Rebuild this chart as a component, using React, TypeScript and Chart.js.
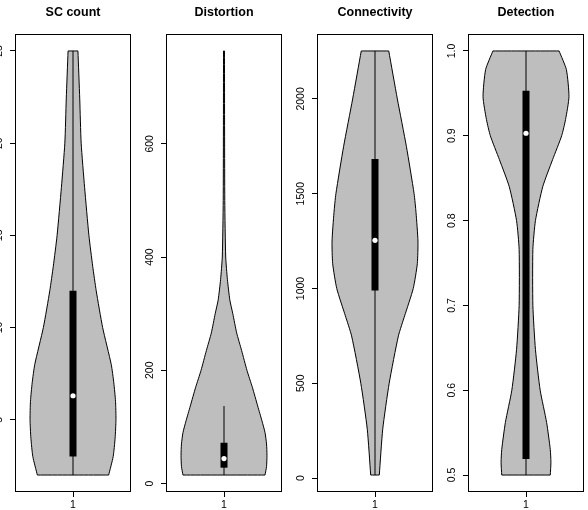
import React, { useEffect, useRef } from "react";
import { Chart, registerables } from "chart.js";

Chart.register(...registerables);

const FONT = '"Liberation Sans", Arial, Helvetica, sans-serif';

// ---------- data ----------
const TITLES = ["SC count", "Distortion", "Connectivity", "Detection"];
const X_LABEL = "1";

// SC count
const SC_LEVELS = [2, 3, 4, 5, 6, 7, 8, 10, 12, 13.3, 15, 17.6, 20, 22.4, 25];
const SC_DENSITY = [0.83, 0.935, 0.98, 1.0, 0.99, 0.95, 0.89, 0.69, 0.54, 0.46, 0.37, 0.27, 0.19, 0.157, 0.115];
const SC_STATS = [2, 2, 3, 6.3, 12, 25, 25]; // min, lowWhisker, q1, median, q3, highWhisker, max
const SC_TICKS = [5, 10, 15, 20, 25];
const SC_TICK_LABELS = ["5", "10", "15", "20", "25"];

// Distortion
const DIST_LEVELS = [15, 30, 50, 70, 90, 110, 137, 170, 200, 235, 266, 300, 324, 360, 400, 500, 764];
const DIST_DENSITY = [0.955, 0.99, 1.0, 0.99, 0.955, 0.886, 0.784, 0.66, 0.534, 0.41, 0.295, 0.205, 0.136, 0.08, 0.04, 0.018, 0.011];
const DIST_STATS = [15, 15, 28, 44, 72, 137, 764];
const DIST_TICKS = [0, 200, 400, 600];
const DIST_TICK_LABELS = ["0", "200", "400", "600"];

// Connectivity
const CONN_LEVELS = [16, 258, 500, 750, 856, 1000, 1131, 1250, 1400, 1500, 1750, 2000, 2253];
const CONN_DENSITY = [0.1, 0.18, 0.33, 0.545, 0.69, 0.89, 0.985, 1.0, 0.955, 0.91, 0.73, 0.52, 0.32];
const CONN_STATS = [16, 16, 989, 1254, 1683, 2253, 2253];
const CONN_TICKS = [0, 500, 1000, 1500, 2000];
const CONN_TICK_LABELS = ["0", "500", "1000", "1500", "2000"];

// Detection
const DET_LEVELS = [0.5, 0.515, 0.53, 0.562, 0.6, 0.648, 0.7, 0.766, 0.8, 0.84, 0.872, 0.9, 0.919, 0.946, 0.978, 1.0];
const DET_DENSITY = [0.565, 0.58, 0.565, 0.48, 0.33, 0.22, 0.16, 0.16, 0.22, 0.39, 0.62, 0.83, 0.92, 1.0, 0.94, 0.77];
const DET_STATS = [0.5, 0.5, 0.519, 0.903, 0.953, 1.0, 1.0];
const DET_TICKS = [0.5, 0.6, 0.7, 0.8, 0.9, 1.0];
const DET_TICK_LABELS = ["0.5", "0.6", "0.7", "0.8", "0.9", "1.0"];

const PANELS = [
  { title: TITLES[0], levels: SC_LEVELS, density: SC_DENSITY, stats: SC_STATS, ticks: SC_TICKS, labels: SC_TICK_LABELS },
  { title: TITLES[1], levels: DIST_LEVELS, density: DIST_DENSITY, stats: DIST_STATS, ticks: DIST_TICKS, labels: DIST_TICK_LABELS },
  { title: TITLES[2], levels: CONN_LEVELS, density: CONN_DENSITY, stats: CONN_STATS, ticks: CONN_TICKS, labels: CONN_TICK_LABELS },
  { title: TITLES[3], levels: DET_LEVELS, density: DET_DENSITY, stats: DET_STATS, ticks: DET_TICKS, labels: DET_TICK_LABELS },
];

// ---------- layout / style ----------
const PLOT_LEFT = [15, 166, 317, 468];
const PLOT_W = 118;
const Y_AXIS_W = 40;
const RIGHT_PAD = 2;
const CANVAS_W = Y_AXIS_W + PLOT_W + RIGHT_PAD;
const CANVAS_H = 510;
const X_AXIS_H = 18;
const TICK_LEN = 5;
const LABEL_OFFSET = 15.5;
const TICK_FONT_SIZE = 10.5;
const TITLE_FONT_SIZE = 12.5;
const HALF_MAX = 0.4; // max half-width in x units
const VIOLIN_FILL = "#BEBEBE";

const boxPlugin = {
  id: "frameBox",
  afterDraw(chart: any) {
    const { ctx, chartArea } = chart;
    const { left, top, right, bottom } = chartArea;
    ctx.save();
    ctx.strokeStyle = "#000";
    ctx.lineWidth = 1;
    ctx.strokeRect(Math.round(left) + 0.5, Math.round(top) + 0.5, Math.round(right - left) - 1, Math.round(bottom - top) - 1);
    ctx.restore();
  },
};

function measureWidest(labels: string[], font: string) {
  const c = document.createElement("canvas").getContext("2d")!;
  c.font = font;
  return Math.max(...labels.map((l) => c.measureText(l).width));
}

function Panel({ idx }: { idx: number }) {
  const ref = useRef<HTMLCanvasElement | null>(null);
  useEffect(() => {
    const p = PANELS[idx];
    const [mn, lw, q1, med, q3, hw, mx] = p.stats;
    const range = mx - mn;
    const yMin = mn - 0.04 * range;
    const yMax = mx + 0.04 * range;

    const n = p.levels.length;
    const left = p.levels.map((v, i) => ({ x: 1 - HALF_MAX * p.density[i], y: v }));
    const right = p.levels.map((v, i) => ({ x: 1 + HALF_MAX * p.density[i], y: v })).reverse();
    // corners are repeated so the smoothing keeps the flat top/bottom edges square
    const poly = [
      left[0], left[0], ...left.slice(1, n - 1), left[n - 1], left[n - 1],
      right[0], right[0], ...right.slice(1, n - 1), right[n - 1], right[n - 1],
      left[0],
    ].map((pt) => ({ ...pt }));

    const tickFont = { family: FONT, size: TICK_FONT_SIZE };
    const widest = measureWidest(p.labels, `${TICK_FONT_SIZE}px ${FONT}`);
    const yPad = LABEL_OFFSET - TICK_LEN - widest / 2;

    const chart = new Chart(ref.current!, {
      type: "scatter",
      data: {
        datasets: [
          {
            data: [{ x: 1, y: med }],
            showLine: false,
            pointRadius: 2.6,
            pointBackgroundColor: "#ffffff",
            pointBorderWidth: 0,
            order: 1,
          },
          {
            data: [{ x: 1, y: q1 }, { x: 1, y: q3 }],
            showLine: true,
            borderColor: "#000",
            borderWidth: 7,
            borderCapStyle: "butt",
            pointRadius: 0,
            order: 2,
          },
          {
            data: [{ x: 1, y: lw }, { x: 1, y: hw }],
            showLine: true,
            borderColor: "#000",
            borderWidth: 1,
            pointRadius: 0,
            order: 3,
          },
          {
            data: poly,
            showLine: true,
            fill: "shape",
            backgroundColor: VIOLIN_FILL,
            borderColor: "#000",
            borderWidth: 1,
            pointRadius: 0,
            tension: 0.2,
            capBezierPoints: false,
            order: 4,
          },
        ] as any,
      },
      options: {
        responsive: false,
        animation: false,
        devicePixelRatio: 1,
        layout: { padding: { left: 0, right: RIGHT_PAD, top: 0, bottom: 0 } },
        plugins: {
          legend: { display: false },
          tooltip: { enabled: false },
          title: {
            display: true,
            text: p.title,
            fullSize: false,
            color: "#000",
            font: { family: FONT, size: TITLE_FONT_SIZE, weight: "bold" },
            padding: { top: 5.5, bottom: 13.5 },
          },
        },
        scales: {
          x: {
            type: "linear",
            min: 0.46,
            max: 1.54,
            afterBuildTicks: (s: any) => {
              s.ticks = [{ value: 1 }];
            },
            afterFit: (s: any) => {
              s.height = X_AXIS_H;
            },
            ticks: {
              callback: () => X_LABEL,
              font: tickFont,
              color: "#000",
              padding: 2,
              minRotation: 0,
              maxRotation: 0,
              autoSkip: false,
            },
            grid: { drawOnChartArea: false, drawTicks: true, tickLength: TICK_LEN, color: "#000" },
            border: { display: false },
          },
          y: {
            type: "linear",
            min: yMin,
            max: yMax,
            afterBuildTicks: (s: any) => {
              s.ticks = p.ticks.map((v) => ({ value: v }));
            },
            afterFit: (s: any) => {
              s.width = Y_AXIS_W;
            },
            ticks: {
              callback: (_v: any, i: number) => p.labels[i],
              font: tickFont,
              color: "#000",
              padding: yPad,
              crossAlign: "center",
              minRotation: 90,
              maxRotation: 90,
              autoSkip: false,
            },
            grid: { drawOnChartArea: false, drawTicks: true, tickLength: TICK_LEN, color: "#000" },
            border: { display: false },
          },
        },
      } as any,
      plugins: [boxPlugin],
    });
    return () => chart.destroy();
  }, [idx]);

  return (
    <canvas
      ref={ref}
      width={CANVAS_W}
      height={CANVAS_H}
      style={{ position: "absolute", left: PLOT_LEFT[idx] - Y_AXIS_W, top: 0, width: CANVAS_W, height: CANVAS_H }}
    />
  );
}

export default function App() {
  return (
    <div style={{ position: "fixed", left: 0, top: 0, width: 588, height: 510, overflow: "hidden", background: "#fff" }}>
      {PANELS.map((_, i) => (
        <Panel key={i} idx={i} />
      ))}
    </div>
  );
}
